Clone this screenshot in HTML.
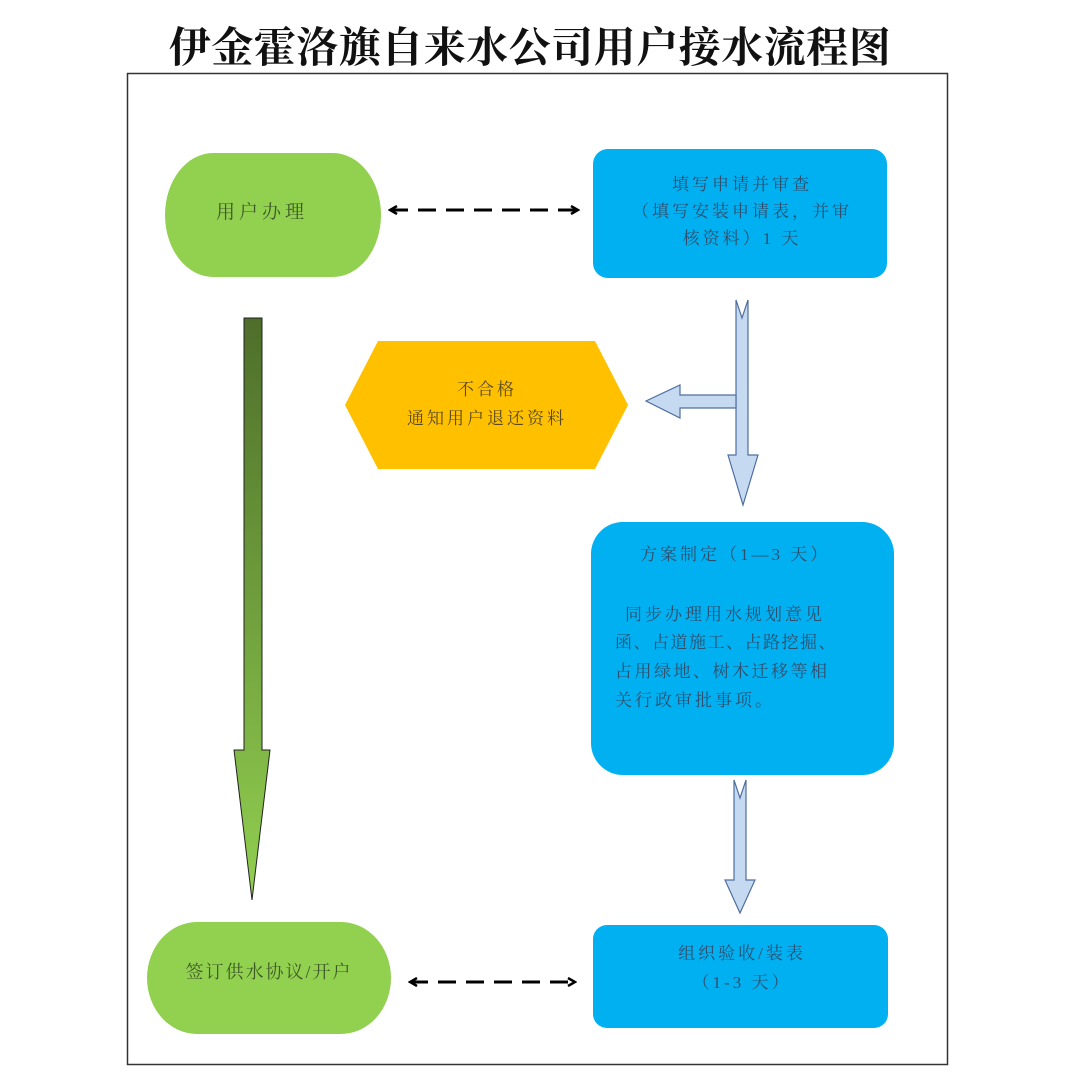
<!DOCTYPE html>
<html><head><meta charset="utf-8"><style>
html,body{margin:0;padding:0;background:#fff;}
svg{display:block}
text{font-family:"Liberation Serif","Noto Serif CJK SC",serif;}
</style></head><body>
<svg width="1080" height="1091" viewBox="0 0 1080 1091" xmlns="http://www.w3.org/2000/svg">
<defs>
<linearGradient id="gg" x1="0" y1="0" x2="0" y2="1">
<stop offset="0" stop-color="#4e6e2a"/><stop offset="1" stop-color="#92d050"/>
</linearGradient>
<marker id="ah" markerWidth="10" markerHeight="10" refX="8" refY="5" orient="auto-start-reverse" markerUnits="userSpaceOnUse">
<path d="M1,1 L8,5 L1,9" fill="none" stroke="#000" stroke-width="2.5"/>
</marker>
</defs>
<text x="530" y="62" text-anchor="middle" font-size="42" font-weight="bold" fill="#111" letter-spacing="0.5">伊金霍洛旗自来水公司用户接水流程图</text>
<rect x="127.5" y="73.5" width="820" height="991" fill="none" stroke="#333" stroke-width="1.5"/>

<rect x="165" y="153" width="216" height="124" rx="48" ry="62" fill="#92d050"/>
<text x="262" y="218" text-anchor="middle" font-size="19" letter-spacing="4" fill="#3d5a26">用户办理</text>

<rect x="593" y="149" width="294" height="129" rx="15" fill="#00b0f0"/>
<g font-size="17" fill="#2f4f6f" text-anchor="middle" letter-spacing="3">
<text x="742" y="190">填写申请并审查</text>
<text x="742" y="217">（填写安装申请表，并审</text>
<text x="742" y="244">核资料）1 天</text>
</g>

<line x1="390" y1="210" x2="578" y2="210" stroke="#000" stroke-width="3" stroke-dasharray="18,10" marker-start="url(#ah)" marker-end="url(#ah)"/>

<polygon points="345,405 378,341 595,341 628,405 595,469 378,469" fill="#ffc000"/>
<g font-size="17" fill="#5a4a20" text-anchor="middle" letter-spacing="3">
<text x="487" y="395">不合格</text>
<text x="487" y="424">通知用户退还资料</text>
</g>

<path d="M736,300 L742,318 L748,300 L748,455 L758,455 L743,505 L728,455 L736,455 Z" fill="#c5d9f1" stroke="#4f6fa0" stroke-width="1.2"/>
<path d="M736,395 L680,395 L680,385 L646,401 L680,418 L680,408 L736,408 Z" fill="#c5d9f1" stroke="#4f6fa0" stroke-width="1.2"/>

<path d="M244,318 L262,318 L262,750 L270,750 L252,900 L234,750 L244,750 Z" fill="url(#gg)" stroke="#222" stroke-width="1"/>

<rect x="591" y="522" width="303" height="253" rx="32" fill="#00b0f0"/>
<g font-size="17" fill="#2f4f6f" letter-spacing="3">
<text x="640" y="560">方案制定（1—3 天）</text>
<text x="625" y="620">同步办理用水规划意见</text>
<text x="615" y="648" letter-spacing="1.5">函、占道施工、占路挖掘、</text>
<text x="615" y="677" letter-spacing="2.5">占用绿地、树木迁移等相</text>
<text x="615" y="706">关行政审批事项。</text>
</g>

<path d="M734,780 L740,798 L746,780 L746,880 L755,880 L740,913 L725,880 L734,880 Z" fill="#c5d9f1" stroke="#4f6fa0" stroke-width="1.2"/>

<rect x="147" y="922" width="244" height="112" rx="50" ry="56" fill="#92d050"/>
<text x="269" y="978" text-anchor="middle" font-size="18" letter-spacing="2" fill="#3d5a26">签订供水协议/开户</text>

<rect x="593" y="925" width="295" height="103" rx="14" fill="#00b0f0"/>
<text x="742" y="959" text-anchor="middle" font-size="17" letter-spacing="3" fill="#2f4f6f">组织验收/装表</text>
<text x="742" y="988" text-anchor="middle" font-size="17" letter-spacing="3" fill="#2f4f6f">（1-3 天）</text>

<line x1="410" y1="982" x2="575" y2="982" stroke="#000" stroke-width="3" stroke-dasharray="18,10" marker-start="url(#ah)" marker-end="url(#ah)"/>
</svg>
</body></html>
